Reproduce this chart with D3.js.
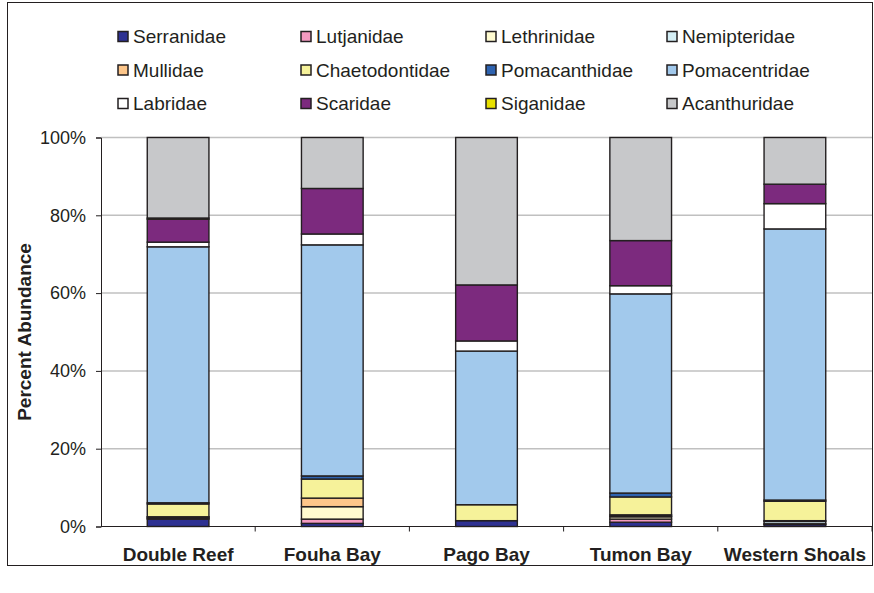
<!DOCTYPE html>
<html><head><meta charset="utf-8">
<script src="https://cdn.jsdelivr.net/npm/d3@7"></script>
<style>
html,body{margin:0;padding:0;background:#fff;}
svg{display:block;font-family:"Liberation Sans",Arial,sans-serif;}
</style></head>
<body>
<svg id="chart" width="874" height="593"></svg>
<script>
const sites = ["Double Reef","Fouha Bay","Pago Bay","Tumon Bay","Western Shoals"];
const families = ["Serranidae","Lutjanidae","Lethrinidae","Nemipteridae","Mullidae","Chaetodontidae","Pomacanthidae","Pomacentridae","Labridae","Scaridae","Siganidae","Acanthuridae"];
const colors = ["#2E3192","#F49AC1","#FFFBD0","#D4EEF5","#FDC68A","#F6F29A","#2E63B0","#A2C9EC","#FFFFFF","#7C2A7E","#E8E000","#C7C8CA"];
// percent abundance per family, in site order
const Serranidae     = [1.9, 0.8, 1.5, 1.1, 0.5];
const Lutjanidae     = [0.2, 1.1, 0.0, 0.8, 0.2];
const Lethrinidae    = [0.3, 3.2, 0.0, 0.6, 0.0];
const Nemipteridae   = [0.0, 0.0, 0.0, 0.2, 0.6];
const Mullidae       = [0.1, 2.2, 0.0, 0.3, 0.2];
const Chaetodontidae = [3.3, 4.9, 4.1, 4.6, 5.0];
const Pomacanthidae  = [0.3, 0.8, 0.0, 1.0, 0.3];
const Pomacentridae  = [65.8, 59.4, 39.5, 51.2, 69.7];
const Labridae       = [1.2, 2.8, 2.6, 2.1, 6.5];
const Scaridae       = [5.9, 11.7, 14.4, 11.6, 5.0];
const Siganidae      = [0.3, 0.0, 0.0, 0.0, 0.0];
const Acanthuridae   = [20.7, 13.1, 37.9, 26.5, 12.0];
const yTicks = [0,20,40,60,80,100];

const seriesVals = [Serranidae,Lutjanidae,Lethrinidae,Nemipteridae,Mullidae,Chaetodontidae,Pomacanthidae,Pomacentridae,Labridae,Scaridae,Siganidae,Acanthuridae];
const table = sites.map((s,i)=>{const o={site:s}; families.forEach((f,j)=>o[f]=seriesVals[j][i]); return o;});

const svg = d3.select("#chart");
const L=101, R=872, T=137.5, B=526.5;

// outer frame
svg.append("rect").attr("x",7.5).attr("y",2.5).attr("width",865).attr("height",563)
  .attr("fill","none").attr("stroke","#231F20").attr("stroke-width",1);

const x = d3.scaleBand().domain(sites).range([L,R]).paddingInner(0.6).paddingOuter(0.3);
const y = d3.scaleLinear().domain([0,100]).range([B,T]);

// grid
svg.append("g").selectAll("line").data(yTicks.filter(d=>d>0)).join("line")
  .attr("x1",L).attr("x2",R).attr("y1",d=>y(d)).attr("y2",d=>y(d))
  .attr("stroke","#C0C0C0").attr("stroke-width",1.5);

const stack = d3.stack().keys(families)(table);
const color = d3.scaleOrdinal().domain(families).range(colors);

svg.append("g").selectAll("g").data(stack).join("g")
  .attr("fill",d=>color(d.key))
  .selectAll("rect").data(d=>d).join("rect")
  .attr("x",d=>x(d.data.site)).attr("width",x.bandwidth())
  .attr("y",d=>y(d[1])).attr("height",d=>Math.max(0,y(d[0])-y(d[1])))
  .attr("stroke","#231F20").attr("stroke-width",1.4);

// y axis
const yAxis = d3.axisLeft(y).tickValues(yTicks).tickFormat(d=>d+"%").tickSize(5).tickPadding(10);
const gy = svg.append("g").attr("transform",`translate(${L},0)`).call(yAxis);
gy.select(".domain").attr("stroke","#231F20");
gy.selectAll(".tick line").attr("stroke","#231F20");
gy.selectAll("text").attr("font-size",18).attr("fill","#231F20").attr("font-family","Liberation Sans, Arial, sans-serif");

// x axis
const xAxis = d3.axisBottom(x).tickSize(0).tickPadding(21);
const gx = svg.append("g").attr("transform",`translate(0,${B})`).call(xAxis);
gx.select(".domain").attr("stroke","#231F20").attr("d",`M${L},0H${R}`);
gx.selectAll("text").attr("font-size",19).attr("font-weight","bold").attr("fill","#231F20").attr("font-family","Liberation Sans, Arial, sans-serif");
// category separator ticks
svg.append("g").selectAll("line").data(d3.range(1,sites.length+1)).join("line")
  .attr("x1",d=>L+d*(R-L)/sites.length).attr("x2",d=>L+d*(R-L)/sites.length)
  .attr("y1",B).attr("y2",B+5).attr("stroke","#231F20");

// y title
svg.append("text").attr("transform",`translate(31,${(T+B)/2}) rotate(-90)`)
  .attr("text-anchor","middle").attr("font-size",19).attr("font-weight","bold").attr("fill","#231F20")
  .text("Percent Abundance");

// legend
const colX = [118, 301, 486, 667];
const rowY = [36.5, 70, 103.5];
const lg = svg.append("g").selectAll("g").data(families).join("g")
  .attr("transform",(d,i)=>`translate(${colX[i%4]},${rowY[Math.floor(i/4)]})`);
lg.append("rect").attr("x",0).attr("y",-5).attr("width",10).attr("height",10)
  .attr("fill",d=>color(d)).attr("stroke","#231F20").attr("stroke-width",1.5);
lg.append("text").attr("x",15).attr("y",0).attr("dy","0.36em")
  .attr("font-size",19).attr("fill","#231F20").text(d=>d);
</script>
</body></html>
